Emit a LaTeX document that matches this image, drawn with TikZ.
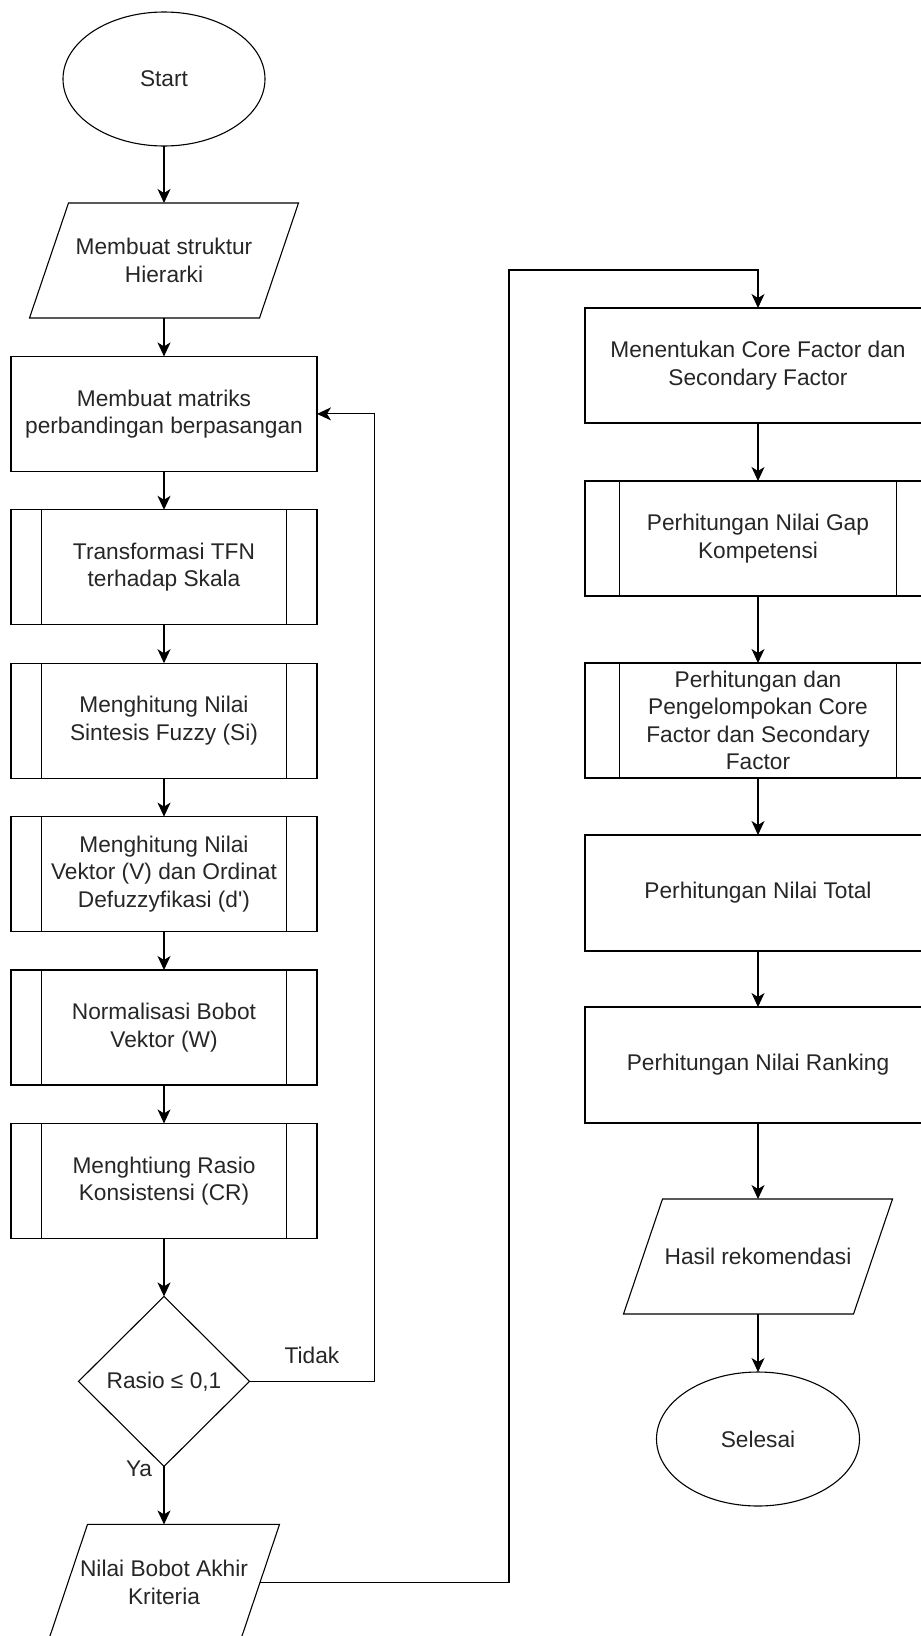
\documentclass[tikz,border=0pt]{standalone}
\usepackage{fontspec}
\setmainfont{Liberation Sans}
\usetikzlibrary{arrows.meta,positioning,shapes.geometric,calc}

\begin{document}
\begin{tikzpicture}[
    x=1pt,y=1pt,
    node distance=38.4pt,
    box/.style={draw,line width=1.1pt,outer sep=0pt,font=\fontsize{22.7}{27.5}\selectfont,text=black!85,align=center,inner sep=0pt},
    proc/.style={box,rectangle,minimum width=306pt,minimum height=115pt},
    sub/.style={proc,path picture={
        \draw[line width=1.1pt] ($(path picture bounding box.north west)!0.1!(path picture bounding box.north east)$) -- ($(path picture bounding box.south west)!0.1!(path picture bounding box.south east)$);
        \draw[line width=1.1pt] ($(path picture bounding box.north west)!0.9!(path picture bounding box.north east)$) -- ($(path picture bounding box.south west)!0.9!(path picture bounding box.south east)$);}},
    wide/.style={minimum width=346pt},
    io/.style={box,draw=none,minimum width=230pt,minimum height=115pt,
        append after command={\pgfextra{\draw[line width=1.1pt] ([xshift=19.5pt]\tikzlastnode.north west) -- ([xshift=19.5pt]\tikzlastnode.north east) -- ([xshift=-19.5pt]\tikzlastnode.south east) -- ([xshift=-19.5pt]\tikzlastnode.south west) -- cycle;}}},
    term/.style={box,ellipse,minimum width=202pt,minimum height=134pt},
    dec/.style={box,diamond,minimum width=171pt,minimum height=170pt},
    arr/.style={-{Stealth[length=14pt,width=13pt,inset=4pt]},line width=1.1pt},
    lbl/.style={font=\fontsize{22.7}{27.5}\selectfont,text=black!85}
  ]
  \useasboundingbox (0,0) rectangle (921,-1636);
  \clip (0,0) rectangle (921,-1636);

  % kolom kiri: Fuzzy AHP
  \node[term] (start) at (164,-79) {Start};
  \node[io,below=57pt of start] (hier) {Membuat struktur\\Hierarki};
  \node[proc,below=of hier] (matriks) {Membuat matriks\\perbandingan berpasangan};
  \node[sub,below=of matriks] (tfn) {Transformasi TFN\\terhadap Skala};
  \node[sub,below=of tfn] (sintesis) {Menghitung Nilai\\Sintesis Fuzzy (Si)};
  \node[sub,below=of sintesis] (vektor) {Menghitung Nilai\\Vektor (V) dan Ordinat\\Defuzzyfikasi (d\textquotesingle)};
  \node[sub,below=of vektor] (norm) {Normalisasi Bobot\\Vektor (W)};
  \node[sub,below=of norm] (rasio) {Menghtiung Rasio\\Konsistensi (CR)};
  \node[dec,below=58pt of rasio] (cek) {Rasio ≤ 0,1};
  \node[io,below=58pt of cek,minimum width=192pt,minimum height=116pt] (bobot) {Nilai Bobot Akhir\\Kriteria};

  % kolom kanan: Profile Matching
  \node[proc,wide] (corefac) at (758,-365.5) {Menentukan Core Factor dan\\Secondary Factor};
  \node[sub,wide,below=58pt of corefac] (gapkomp) {Perhitungan Nilai Gap\\Kompetensi};
  \node[sub,wide,below=67pt of gapkomp] (kelompok) {Perhitungan dan\\Pengelompokan Core\\Factor dan Secondary\\Factor};
  \node[proc,wide,below=57pt of kelompok,minimum height=116pt] (total) {Perhitungan Nilai Total};
  \node[proc,wide,below=56pt of total,minimum height=116pt] (ranking) {Perhitungan Nilai Ranking};
  \node[io,below=76pt of ranking] (hasil) {Hasil rekomendasi};
  \node[term,below=58pt of hasil,minimum width=203pt] (selesai) {Selesai};

  \coordinate (belok) at (509,-270);

  \draw[arr] (start) -- (hier);
  \draw[arr] (hier) -- (matriks);
  \draw[arr] (matriks) -- (tfn);
  \draw[arr] (tfn) -- (sintesis);
  \draw[arr] (sintesis) -- (vektor);
  \draw[arr] (vektor) -- (norm);
  \draw[arr] (norm) -- (rasio);
  \draw[arr] (rasio) -- (cek);
  \draw[arr] (cek) -- node[pos=0.04,left=8pt,lbl]{Ya} (bobot);
  \draw[arr] (cek.east) -- node[midway,above=14pt,lbl]{Tidak} ++(125,0) |- (matriks.east);
  \draw[arr] (bobot.east) -| (belok) -| (corefac.north);
  \draw[arr] (corefac) -- (gapkomp);
  \draw[arr] (gapkomp) -- (kelompok);
  \draw[arr] (kelompok) -- (total);
  \draw[arr] (total) -- (ranking);
  \draw[arr] (ranking) -- (hasil);
  \draw[arr] (hasil) -- (selesai);
\end{tikzpicture}
\end{document}
